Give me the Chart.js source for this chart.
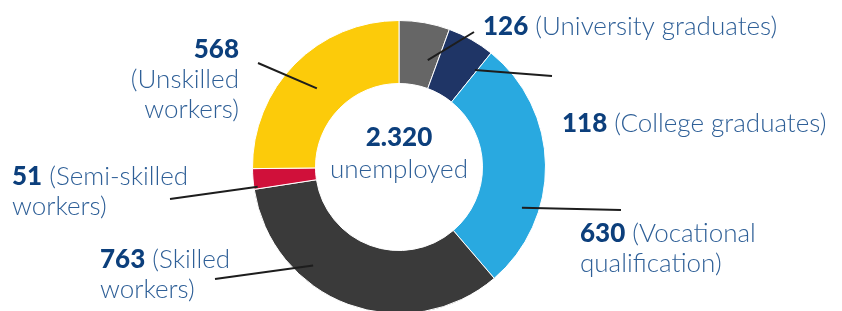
<!DOCTYPE html>
<html>
<head>
<meta charset="utf-8">
<script src="https://cdn.jsdelivr.net/npm/chart.js@4.4.1/dist/chart.umd.min.js"></script>
<style>
  html, body { margin: 0; padding: 0; background: #fff; overflow: hidden; }
  #wrap { position: relative; width: 842px; height: 334px; }
</style>
</head>
<body>
<div id="wrap"><canvas id="chart"></canvas></div>
<script>
const categories = [
  "University graduates",
  "College graduates",
  "Vocational qualification",
  "Skilled workers",
  "Semi-skilled workers",
  "Unskilled workers"
];
const values = [126, 118, 630, 763, 51, 568];
const sliceColors = ["#666666", "#1f3566", "#29a9e0", "#3a3a3a", "#d0103a", "#fccb0a"];
const totalLabel = "2.320";
const totalCaption = "unemployed";

// label layout: text anchor, alignment, words per line, leader line
// (t = position across slice, f = position across ring, end = offset from centre)
const labelLayout = [
  { x: 483, y: 35, align: "left", lines: [2], t: 0.75, f: 0.43, end: [75, -135] },
  { x: 562, y: 132, align: "left", lines: [2], t: 0.95, f: 0.63, end: [153, -91] },
  { x: 580, y: 242, align: "left", lines: [1, 1], t: 0.69, f: 0.73, end: [222, 43] },
  { x: 100, y: 268, align: "left", lines: [1, 1], t: 0.67, f: 0.75, end: [-184, 112] },
  { x: 12, y: 185, align: "left", lines: [1, 1], t: 0.1, f: 0.94, end: [-229, 32] },
  { x: 239, y: 58, align: "right", lines: [0, 1, 1], t: 0.49, f: 0.48, end: [-141, -104] }
];

const fontFamily = "Lato, 'Noto Sans', sans-serif";
const fontSize = 26;
const lineHeight = 30;
const numberFont = "900 " + fontSize + "px " + fontFamily;
const textFont = "300 " + fontSize + "px " + fontFamily;
const numberColor = "#0c3f7c";
const textColor = "#2e5f97";

const labelsPlugin = {
  id: "doughnutLabels",
  afterDraw(chart) {
    const ctx = chart.ctx;
    const arcs = chart.getDatasetMeta(0).data;
    ctx.save();

    // leader lines
    ctx.strokeStyle = "#1d1d1d";
    ctx.lineWidth = 2;
    arcs.forEach((arc, i) => {
      const L = labelLayout[i];
      const p = arc.getProps(["x", "y", "startAngle", "endAngle", "innerRadius", "outerRadius"], true);
      const a = p.startAngle + L.t * (p.endAngle - p.startAngle);
      const r = p.innerRadius + L.f * (p.outerRadius - p.innerRadius);
      ctx.beginPath();
      ctx.moveTo(p.x + r * Math.cos(a), p.y + r * Math.sin(a));
      ctx.lineTo(p.x + L.end[0], p.y + L.end[1]);
      ctx.stroke();
    });

    // labels
    ctx.textBaseline = "alphabetic";
    values.forEach((v, i) => {
      const L = labelLayout[i];
      const words = ("(" + categories[i] + ")").split(" ");
      let w = 0;
      L.lines.forEach((count, li) => {
        const text = words.slice(w, w + count).join(" ");
        w += count;
        const num = li === 0 ? String(v) : "";
        const rest = li === 0 && count > 0 ? " " + text : text;
        ctx.font = numberFont;
        const numW = num ? ctx.measureText(num).width : 0;
        ctx.font = textFont;
        const restW = rest ? ctx.measureText(rest).width : 0;
        let x = L.align === "right" ? L.x - numW - restW : L.x;
        const y = L.y + li * lineHeight;
        ctx.textAlign = "left";
        if (num) {
          ctx.font = numberFont;
          ctx.fillStyle = numberColor;
          ctx.fillText(num, x, y);
          x += numW;
        }
        if (rest) {
          ctx.font = textFont;
          ctx.fillStyle = textColor;
          ctx.fillText(rest, x, y);
        }
      });
    });

    // centre text
    const c = arcs[0];
    ctx.textAlign = "center";
    ctx.font = numberFont;
    ctx.fillStyle = numberColor;
    ctx.fillText(totalLabel, c.x, c.y - 21);
    ctx.font = textFont;
    ctx.fillStyle = textColor;
    ctx.fillText(totalCaption, c.x, c.y + 11);
    ctx.restore();
  }
};

new Chart(document.getElementById("chart"), {
  type: "doughnut",
  data: {
    labels: categories,
    datasets: [{
      data: values,
      backgroundColor: sliceColors,
      borderColor: "#ffffff",
      borderWidth: 1
    }]
  },
  options: {
    responsive: true,
    maintainAspectRatio: false,
    animation: false,
    cutout: "57%",
    layout: { padding: { top: 20, bottom: 20, left: 0, right: 44 } },
    plugins: {
      legend: { display: false },
      tooltip: { enabled: false }
    }
  },
  plugins: [labelsPlugin]
});
</script>
</body>
</html>
